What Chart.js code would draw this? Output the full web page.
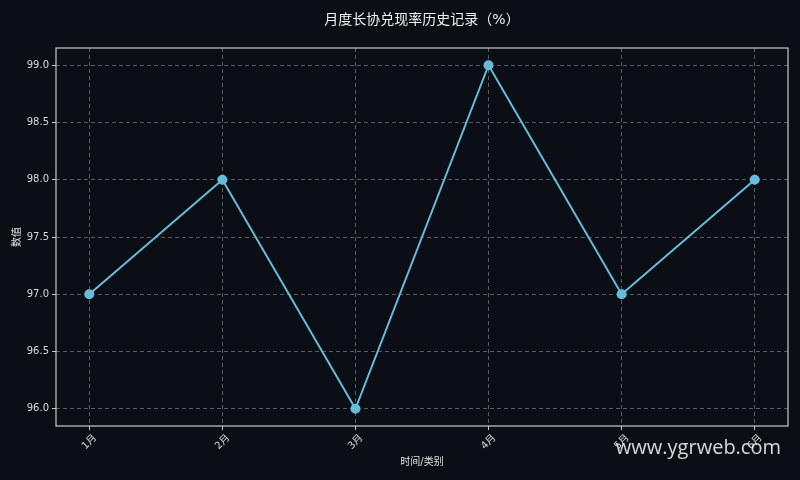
<!DOCTYPE html>
<html>
<head>
<meta charset="utf-8">
<script src="https://cdn.jsdelivr.net/npm/chart.js@4.4.0/dist/chart.umd.min.js"></script>
<style>
html,body{margin:0;padding:0;background:#0b0f15;}
#wrap{width:800px;height:480px;position:relative;}
</style>
</head>
<body>
<div id="wrap"><canvas id="c" width="800" height="480"></canvas></div>
<script>
// data
const months = ["1月","2月","3月","4月","5月","6月"]
const rates = [97.0, 98.0, 96.0, 99.0, 97.0, 98.0]
const yTicks = [96.0, 96.5, 97.0, 97.5, 98.0, 98.5, 99.0]
const chartTitle = '月度长协兑现率历史记录（%）'

const FONT = "'DejaVu Sans','Noto Sans CJK SC',sans-serif"
const GRID = 'rgba(255,255,255,0.32)'
const AXIS = '#c8c8c8'

// background, frame around the plot, title centred over the axes, watermark
const frame = {
    id:'frame',
    beforeDraw(chart){
        const c = chart.ctx
        c.save()
        c.fillStyle = '#0b0f15'
        c.fillRect(0,0,chart.width,chart.height)
        c.restore()
    },
    afterDraw(chart){
        const {left,top,right,bottom} = chart.chartArea
        const c = chart.ctx
        c.save()
        c.strokeStyle = AXIS
        c.lineWidth = 1.2
        c.strokeRect(left,top,right-left,bottom-top)

        c.font = "14px " + FONT
        c.fillStyle = '#f0f0f0'
        c.textAlign = 'center'
        c.textBaseline = 'middle'
        c.fillText(chartTitle, (left+right)/2, 20)

        c.font = "20px 'Open Sans','DejaVu Sans',sans-serif"
        c.fillStyle = 'rgba(235,235,235,0.9)'
        c.textAlign = 'right'
        c.fillText('www.ygrweb.com', 781, 448)
        c.restore()
    }
}

new Chart(document.getElementById('c').getContext('2d'), {
    type:'line',
    data:{
        datasets:[{
            data: rates.map((v,i)=>({x:i,y:v})),
            borderColor:'#66bcdb',
            backgroundColor:'#66bcdb',
            borderWidth:2,
            pointRadius:4,
            pointHoverRadius:4,
            tension:0
        }]
    },
    options:{
        responsive:false,
        animation:false,
        layout:{padding:{left:0,right:12,top:48,bottom:0}},
        plugins:{
            legend:{display:false},
            tooltip:{enabled:false},
            title:{display:false}
        },
        scales:{
            x:{
                type:'linear',
                min:-0.25,
                max:5.25,
                afterBuildTicks(scale){ scale.ticks = months.map((m,i)=>({value:i})) },
                afterFit(scale){ scale.height = 54 },
                ticks:{
                    color:'#d8d8d8',
                    font:{family:FONT,size:10},
                    maxRotation:45,
                    minRotation:45,
                    padding:2,
                    labelOffset:6,
                    callback:(v)=>months[v]
                },
                grid:{color:GRID,tickColor:AXIS,tickBorderDash:[],tickLength:4,drawTicks:true},
                border:{display:false,dash:[4,3]},
                title:{display:true,text:'时间/类别',color:'#e0e0e0',font:{family:FONT,size:10},padding:{top:2,bottom:12}}
            },
            y:{
                min:95.85,
                max:99.15,
                afterBuildTicks(scale){ scale.ticks = yTicks.map(v=>({value:v})) },
                afterFit(scale){ scale.width = 56 },
                ticks:{
                    color:'#d8d8d8',
                    font:{family:FONT,size:10},
                    padding:3,
                    callback:(v)=>v.toFixed(1)
                },
                grid:{color:GRID,tickColor:AXIS,tickBorderDash:[],tickLength:4,drawTicks:true},
                border:{display:false,dash:[4,3]},
                title:{display:true,text:'数值',color:'#e0e0e0',font:{family:FONT,size:10},padding:{top:11,bottom:0}}
            }
        }
    },
    plugins:[frame]
})
</script>
</body>
</html>
